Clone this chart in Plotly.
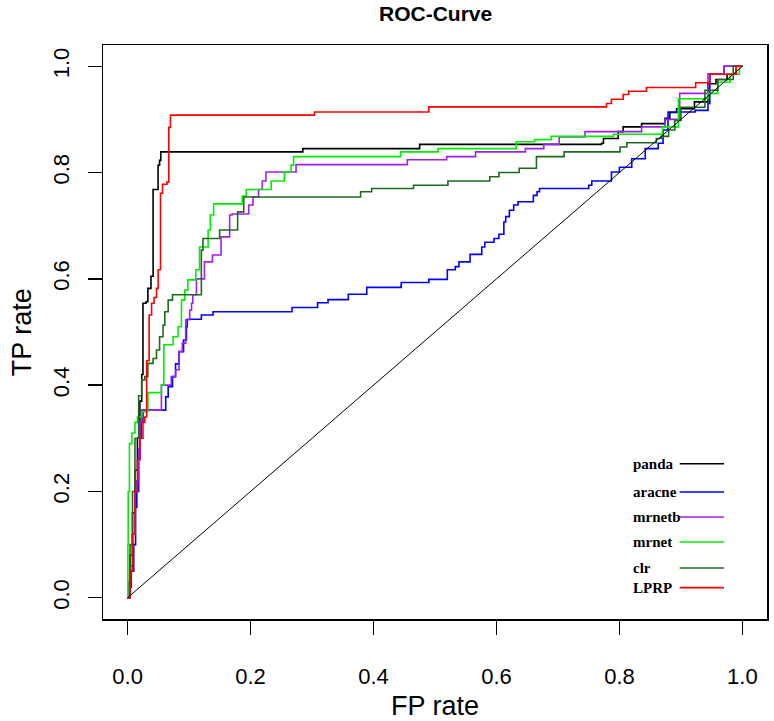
import plotly.graph_objects as go

# ---------------- data (step ROC curves: at fpr x the curve rises to tpr y) ----------------
panda_fpr = [0, 0.004, 0.008, 0.012, 0.016, 0.02, 0.023, 0.025, 0.03, 0.033, 0.038, 0.0415, 0.0496, 0.052, 0.054,
             0.285, 0.475, 0.771, 0.774, 0.798, 0.806, 0.836, 0.874, 0.882, 0.893, 0.922, 0.944, 0.957, 0.975, 0.99, 1.0]
panda_tpr = [0, 0.08, 0.16, 0.24, 0.30, 0.37, 0.42, 0.554, 0.557, 0.582, 0.605, 0.768, 0.814, 0.823, 0.839,
             0.845, 0.853, 0.855, 0.864, 0.877, 0.886, 0.892, 0.902, 0.913, 0.92, 0.933, 0.967, 0.975, 0.985, 1.0, 1.0]

aracne_fpr = [0, 0.003, 0.006, 0.01, 0.013, 0.015, 0.018, 0.02, 0.022, 0.025, 0.062, 0.066, 0.073, 0.078, 0.0837,
              0.091, 0.0957, 0.097, 0.12, 0.139, 0.2675, 0.309, 0.326, 0.359, 0.389, 0.445, 0.49, 0.52, 0.533, 0.539,
              0.557, 0.576, 0.581, 0.596, 0.604, 0.612, 0.615, 0.621, 0.628, 0.635, 0.66, 0.666, 0.67, 0.75, 0.755,
              0.787, 0.80, 0.82, 0.842, 0.863, 0.871, 0.879, 0.923, 0.944, 0.947, 0.97, 1.0]
aracne_tpr = [0, 0.02, 0.05, 0.10, 0.17, 0.20, 0.26, 0.30, 0.33, 0.353, 0.378, 0.397, 0.416, 0.44, 0.463,
              0.485, 0.51, 0.524, 0.532, 0.538, 0.546, 0.555, 0.561, 0.571, 0.584, 0.593, 0.599, 0.617, 0.623, 0.632,
              0.646, 0.66, 0.669, 0.676, 0.684, 0.707, 0.717, 0.729, 0.739, 0.745, 0.757, 0.764, 0.77, 0.776, 0.784,
              0.801, 0.81, 0.826, 0.845, 0.855, 0.88, 0.914, 0.917, 0.93, 0.986, 1.0, 1.0]

mrnetb_fpr = [0, 0.002, 0.005, 0.008, 0.012, 0.015, 0.018, 0.02, 0.023, 0.055, 0.071, 0.078, 0.0837, 0.089, 0.0945,
              0.101, 0.104, 0.106, 0.112, 0.125, 0.138, 0.152, 0.166, 0.170, 0.197, 0.204, 0.213, 0.219, 0.225, 0.274,
              0.455, 0.519, 0.566, 0.647, 0.677, 0.702, 0.744, 0.836, 0.874, 0.898, 0.944, 0.97, 1.0]
mrnetb_tpr = [0, 0.03, 0.06, 0.12, 0.20, 0.22, 0.28, 0.33, 0.353, 0.40, 0.416, 0.429, 0.463, 0.479, 0.523,
              0.541, 0.554, 0.57, 0.60, 0.632, 0.645, 0.679, 0.72, 0.722, 0.739, 0.754, 0.768, 0.784, 0.801, 0.815,
              0.824, 0.83, 0.839, 0.845, 0.853, 0.867, 0.877, 0.886, 0.90, 0.949, 0.986, 1.0, 1.0]

mrnet_fpr = [0, 0.0005, 0.001, 0.003, 0.007, 0.012, 0.016, 0.023, 0.033, 0.055, 0.059, 0.074, 0.082, 0.0876, 0.093,
             0.098, 0.111, 0.117, 0.131, 0.1345, 0.14, 0.1865, 0.193, 0.2335, 0.255, 0.266, 0.270, 0.444, 0.505,
             0.632, 0.662, 0.689, 0.79, 0.87, 0.896, 0.944, 0.96, 0.98, 0.995, 1.0]
mrnet_tpr = [0, 0.10, 0.20, 0.29, 0.31, 0.33, 0.34, 0.35, 0.386, 0.40, 0.476, 0.491, 0.51, 0.56, 0.579,
             0.598, 0.617, 0.66, 0.692, 0.72, 0.741, 0.756, 0.768, 0.784, 0.801, 0.814, 0.83, 0.839, 0.845,
             0.858, 0.862, 0.868, 0.872, 0.886, 0.939, 0.949, 0.97, 0.985, 1.0, 1.0]

clr_fpr = [0, 0.004, 0.008, 0.012, 0.018, 0.023, 0.028, 0.033, 0.0415, 0.047, 0.052, 0.0577, 0.0605, 0.066, 0.073,
           0.12, 0.1226, 0.1497, 0.179, 0.189, 0.379, 0.397, 0.465, 0.521, 0.589, 0.604, 0.637, 0.665, 0.71, 0.801,
           0.812, 0.86, 0.868, 0.88, 0.89, 0.90, 0.939, 0.96, 0.985, 1.0]
clr_tpr = [0, 0.10, 0.20, 0.30, 0.38, 0.41, 0.416, 0.441, 0.45, 0.466, 0.491, 0.513, 0.538, 0.56, 0.57,
           0.654, 0.676, 0.692, 0.726, 0.754, 0.764, 0.77, 0.776, 0.784, 0.792, 0.80, 0.808, 0.83, 0.839, 0.848,
           0.856, 0.864, 0.868, 0.88, 0.898, 0.923, 0.955, 0.975, 1.0, 1.0]

lprp_fpr = [0, 0.004, 0.008, 0.012, 0.016, 0.02, 0.025, 0.028, 0.031, 0.035, 0.039, 0.043, 0.047, 0.0497, 0.0535,
            0.0568, 0.064, 0.067, 0.0697, 0.304, 0.49, 0.779, 0.787, 0.806, 0.815, 0.844, 0.924, 0.947, 0.99, 1.0]
lprp_tpr = [0, 0.05, 0.12, 0.20, 0.26, 0.30, 0.33, 0.34, 0.446, 0.532, 0.554, 0.565, 0.582, 0.617, 0.761,
            0.778, 0.782, 0.885, 0.908, 0.914, 0.9235, 0.93, 0.938, 0.947, 0.953, 0.96, 0.969, 0.985, 1.0, 1.0]

diag_x = [0, 1]
diag_y = [0, 1]

series_names = ["panda", "aracne", "mrnetb", "mrnet", "clr", "LPRP"]
series_colors = ["#000000", "#0000FF", "#A020F0", "#00EE00", "#1E6B1E", "#FF0000"]
series_fpr = [panda_fpr, aracne_fpr, mrnetb_fpr, mrnet_fpr, clr_fpr, lprp_fpr]
series_tpr = [panda_tpr, aracne_tpr, mrnetb_tpr, mrnet_tpr, clr_tpr, lprp_tpr]

x_ticks = [0.0, 0.2, 0.4, 0.6, 0.8, 1.0]
y_ticks = [0.0, 0.2, 0.4, 0.6, 0.8, 1.0]
tick_text = ["0.0", "0.2", "0.4", "0.6", "0.8", "1.0"]

title_text = "ROC-Curve"
x_title = "FP rate"
y_title = "TP rate"

# legend placement (data coordinates)
legend_text_x = 0.819
legend_line_x0 = 0.898
legend_line_x1 = 0.970
legend_y = [0.252, 0.199, 0.152, 0.105, 0.056, 0.019]

SANS = "Liberation Sans, Arial, sans-serif"
SERIF = "Liberation Serif, Times New Roman, serif"

fig = go.Figure()

for name, col, fx, ty in zip(series_names, series_colors, series_fpr, series_tpr):
    fig.add_trace(go.Scatter(x=fx, y=ty, mode="lines", name=name,
                             line=dict(color=col, width=1.6, shape="hv"),
                             showlegend=False, hoverinfo="skip"))

fig.add_trace(go.Scatter(x=diag_x, y=diag_y, mode="lines",
                         line=dict(color="#000000", width=1), showlegend=False, hoverinfo="skip"))

# custom legend
for name, col, ly in zip(series_names, series_colors, legend_y):
    fig.add_annotation(x=legend_text_x, y=ly, xref="x", yref="y", text="<b>" + name + "</b>",
                       showarrow=False, xanchor="left", yanchor="middle",
                       font=dict(family=SERIF, size=15, color="#000000"))
    fig.add_shape(type="line", xref="x", yref="y", x0=legend_line_x0, x1=legend_line_x1,
                  y0=ly, y1=ly, line=dict(color=col, width=1.6))

# titles
fig.add_annotation(x=0.5, y=1.0557, xref="paper", yref="paper", text="<b>" + title_text + "</b>",
                   showarrow=False, xanchor="center", yanchor="middle",
                   font=dict(family=SANS, size=21, color="#000000"))
fig.add_annotation(x=0.5, y=-0.1516, xref="paper", yref="paper", text=x_title,
                   showarrow=False, xanchor="center", yanchor="middle",
                   font=dict(family=SANS, size=27, color="#000000"))
fig.add_annotation(x=-0.1216, y=0.5, xref="paper", yref="paper", text=y_title, textangle=-90,
                   showarrow=False, xanchor="center", yanchor="middle",
                   font=dict(family=SANS, size=27, color="#000000"))

axis_common = dict(range=[-0.04, 1.04], showgrid=False, zeroline=False,
                   showline=True, mirror=True, linecolor="#000000", linewidth=1.5,
                   ticks="outside", ticklen=14, tickwidth=1.5, tickcolor="#000000",
                   tickfont=dict(family=SANS, size=22, color="#000000"))

fig.update_xaxes(tickvals=x_ticks, ticktext=tick_text, ticklabelstandoff=23, **axis_common)
fig.update_yaxes(tickvals=y_ticks, ticktext=tick_text, tickangle=-90, ticklabelstandoff=10, **axis_common)

fig.update_layout(width=774, height=721, margin=dict(l=103, r=5, t=45, b=102),
                  paper_bgcolor="white", plot_bgcolor="white")

fig.write_html("out.html", config={"displayModeBar": False, "staticPlot": True},
               post_script="document.body.style.margin='0';document.body.style.padding='0';")
